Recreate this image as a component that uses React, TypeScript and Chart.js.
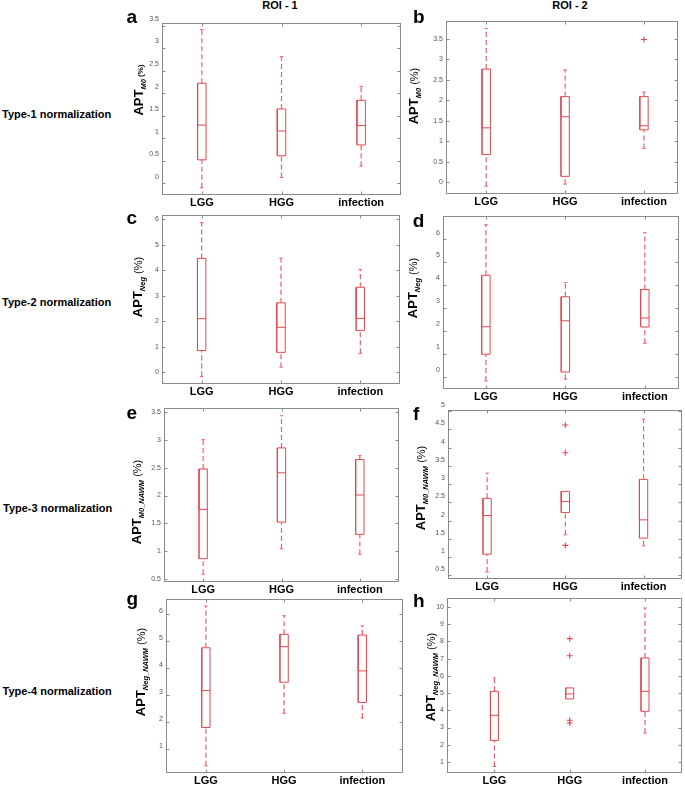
import React, { useEffect, useRef } from 'react';
import { Chart, registerables } from 'chart.js';

Chart.register(...registerables);

const FONT = '"Liberation Sans", Arial, Helvetica, sans-serif';

const CATEGORIES = ['LGG', 'HGG', 'infection'];
const ROW_LABELS = ['Type-1 normalization', 'Type-2 normalization', 'Type-3 normalization', 'Type-4 normalization'];
const COL_LABELS = ['ROI - 1', 'ROI - 2'];

// five-number summaries per category: [lower whisker, Q1, median, Q3, upper whisker]
const STATS_A = [[-0.10, 0.52, 1.29, 2.22, 3.41], [0.13, 0.61, 1.16, 1.65, 2.81], [0.38, 0.85, 1.28, 1.84, 2.15]];
const STATS_B = [[-0.09, 0.68, 1.33, 2.76, 3.75], [-0.04, 0.15, 1.60, 2.09, 2.74], [0.83, 1.28, 1.38, 2.09, 2.20]];
const STATS_C = [[-0.17, 0.85, 2.10, 4.46, 5.86], [0.20, 0.78, 1.76, 2.72, 4.47], [0.74, 1.63, 2.11, 3.33, 4.03]];
const STATS_D = [[-0.19, 0.98, 2.18, 4.43, 6.64], [-0.11, 0.20, 2.44, 3.49, 4.11], [1.46, 2.17, 2.56, 3.81, 6.29]];
const STATS_E = [[0.58, 0.86, 1.75, 2.48, 3.01], [1.04, 1.52, 2.41, 2.86, 3.44], [0.94, 1.30, 2.01, 2.65, 2.72]];
const STATS_F = [[0.59, 1.08, 2.14, 2.61, 3.30], [1.61, 2.22, 2.52, 2.80, 2.80], [1.31, 1.52, 2.02, 3.13, 4.78]];
const STATS_G = [[0.38, 1.80, 3.17, 4.76, 6.31], [2.33, 3.48, 4.80, 5.26, 5.95], [2.15, 2.73, 3.90, 5.23, 5.57]];
const STATS_H = [[0.74, 2.25, 3.71, 5.10, 5.88], [4.66, 4.66, 4.95, 5.30, 5.30], [2.68, 3.94, 5.10, 7.04, 9.94]];

// outliers: [category index, value]
const OUT_NONE: number[][] = [];
const OUT_B = [[2, 3.48]];
const OUT_F = [[1, 4.62], [1, 3.86], [1, 1.32]];
const OUT_H = [[1, 8.16], [1, 7.17], [1, 3.42], [1, 3.26]];

// y tick values
const TICKS_A = [0, 0.5, 1, 1.5, 2, 2.5, 3, 3.5];
const TICKS_B = [0, 0.5, 1, 1.5, 2, 2.5, 3, 3.5];
const TICKS_C = [0, 1, 2, 3, 4, 5, 6];
const TICKS_D = [0, 1, 2, 3, 4, 5, 6];
const TICKS_E = [0.5, 1, 1.5, 2, 2.5, 3, 3.5];
const TICKS_F = [0.5, 1, 1.5, 2, 2.5, 3, 3.5, 4, 4.5, 5];
const TICKS_G = [1, 2, 3, 4, 5, 6];
const TICKS_H = [1, 2, 3, 4, 5, 6, 7, 8, 9, 10];

// layout / style (not data)
const YW = 30;
const PT = 12;
const PR = 4;
const XH = 20;
const BOX_HALF = 0.053;
const CAP_HALF = 0.022;
const BOX_COLOR = 'rgb(224, 72, 78)';
const WHISKER_COLOR = 'rgb(234, 98, 102)';

type Panel = {
  id: string;
  stats: number[][];
  out: number[][];
  ticks: number[];
  frame: number[];
  y: number[];
  x: number[];
  lo: number;
  letter: number[];
  title: { cx: number; cy: number; sub: string; pct: number };
};

const PANELS: Panel[] = [
  { id: 'a', stats: STATS_A, out: OUT_NONE, ticks: TICKS_A, frame: [162, 23, 401, 195], y: [-0.26, 3.556], x: [0.5, 3.5], lo: -6.5, letter: [126.5, 22.7], title: { cx: 140, cy: 90, sub: 'M0', pct: 8 } },
  { id: 'b', stats: STATS_B, out: OUT_B, ticks: TICKS_B, frame: [446, 21, 679, 194], y: [-0.28, 3.93], x: [0.49, 3.43], lo: 0, letter: [413, 22.7], title: { cx: 415, cy: 96, sub: 'M0', pct: 11 } },
  { id: 'c', stats: STATS_C, out: OUT_NONE, ticks: TICKS_C, frame: [162, 215, 400, 384], y: [-0.46, 6.16], x: [0.5, 3.5], lo: 0, letter: [126.5, 224], title: { cx: 139, cy: 287, sub: 'Neg', pct: 11 } },
  { id: 'd', stats: STATS_D, out: OUT_NONE, ticks: TICKS_D, frame: [443, 216, 679, 389], y: [-0.54, 7.02], x: [0.46, 3.43], lo: -6.7, letter: [412.7, 226.7], title: { cx: 414, cy: 288, sub: 'Neg', pct: 11 } },
  { id: 'e', stats: STATS_E, out: OUT_NONE, ticks: TICKS_E, frame: [164, 408, 399, 582], y: [0.44, 3.58], x: [0.5, 3.5], lo: 0, letter: [126.5, 419], title: { cx: 138, cy: 502, sub: 'M0_NAWM', pct: 11 } },
  { id: 'f', stats: STATS_F, out: OUT_F, ticks: TICKS_F, frame: [448, 410, 683, 579], y: [0.40, 5.03], x: [0.5, 3.49], lo: -6, letter: [413, 420], title: { cx: 422, cy: 488, sub: 'M0_NAWM', pct: 11 } },
  { id: 'g', stats: STATS_G, out: OUT_NONE, ticks: TICKS_G, frame: [166, 599, 403, 773], y: [0.11, 6.57], x: [0.49, 3.52], lo: -3, letter: [126.5, 605], title: { cx: 142, cy: 672, sub: 'Neg_NAWM', pct: 11 } },
  { id: 'h', stats: STATS_H, out: OUT_H, ticks: TICKS_H, frame: [447, 598, 683, 773], y: [0.36, 10.52], x: [0.37, 3.49], lo: 0, letter: [413, 606.7], title: { cx: 432, cy: 677, sub: 'Neg_NAWM', pct: 11 } },
];

const ROW_POS = [[2, 118.3], [2, 306.7], [3, 512.7], [2.5, 695]];
const COL_POS = [[280, 8.8], [570, 8.8]];

const framePlugin = {
  id: 'matlabFrame',
  beforeDatasetsDraw(chart: any) {
    const { ctx, chartArea: a, scales } = chart;
    const l = Math.round(a.left) + 0.5;
    const r = Math.round(a.right) - 0.5;
    const t = Math.round(a.top) + 0.5;
    const b = Math.round(a.bottom) - 0.5;
    ctx.save();
    ctx.strokeStyle = '#8a8a8a';
    ctx.lineWidth = 1;
    ctx.strokeRect(l, t, r - l, b - t);
    ctx.beginPath();
    for (const tk of scales.y.ticks) {
      const yy = Math.round(scales.y.getPixelForValue(tk.value)) + 0.5;
      ctx.moveTo(l, yy); ctx.lineTo(l + 3, yy);
      ctx.moveTo(r, yy); ctx.lineTo(r - 3, yy);
    }
    for (const tk of scales.x.ticks) {
      const xx = Math.round(scales.x.getPixelForValue(tk.value)) + 0.5;
      ctx.moveTo(xx, b); ctx.lineTo(xx, b - 3);
      ctx.moveTo(xx, t); ctx.lineTo(xx, t + 3);
    }
    ctx.stroke();
    ctx.restore();
  },
};

function buildDatasets(stats: number[][], out: number[][]) {
  const box: any[] = [];
  const whisk: any[] = [];
  const caps: any[] = [];
  stats.forEach(([lo, q1, med, q3, hi], i) => {
    const x = i + 1;
    box.push(
      { x: x - BOX_HALF, y: q1 }, { x: x + BOX_HALF, y: q1 }, { x: x + BOX_HALF, y: q3 },
      { x: x - BOX_HALF, y: q3 }, { x: x - BOX_HALF, y: q1 }, { x: x - BOX_HALF, y: med },
      { x: x + BOX_HALF, y: med }, { x, y: null },
    );
    whisk.push({ x, y: lo }, { x, y: q1 }, { x, y: null }, { x, y: q3 }, { x, y: hi }, { x, y: null });
    if (lo < q1) caps.push({ x: x - CAP_HALF, y: lo }, { x: x + CAP_HALF, y: lo }, { x, y: null });
    if (hi > q3) caps.push({ x: x - CAP_HALF, y: hi }, { x: x + CAP_HALF, y: hi }, { x, y: null });
  });
  const lineBase = { type: 'line', pointRadius: 0, fill: false, tension: 0, spanGaps: false };
  return [
    { ...lineBase, label: 'whiskers', data: whisk, borderColor: WHISKER_COLOR, borderWidth: 1.2, borderDash: [5, 3] },
    { ...lineBase, label: 'caps', data: caps, borderColor: WHISKER_COLOR, borderWidth: 1 },
    { ...lineBase, label: 'boxes', data: box, borderColor: BOX_COLOR, borderWidth: 1 },
    {
      type: 'line', label: 'outliers', showLine: false,
      data: out.map(([ci, v]) => ({ x: ci + 1, y: v })),
      pointStyle: 'cross', pointRadius: 3, borderColor: BOX_COLOR, borderWidth: 1.1, backgroundColor: BOX_COLOR,
    },
  ];
}

function BoxPanel({ p }: { p: Panel }) {
  const ref = useRef<HTMLCanvasElement>(null);
  const [L, T, R, B] = p.frame;
  const W = R - L + YW + PR;
  const H = B - T + PT + XH;
  useEffect(() => {
    if (!ref.current) return;
    const chart = new Chart(ref.current, {
      type: 'line',
      data: { datasets: buildDatasets(p.stats, p.out) as any },
      plugins: [framePlugin],
      options: {
        responsive: false,
        animation: false,
        events: [],
        layout: { padding: { top: PT, right: PR, left: 0, bottom: 0 } },
        plugins: { legend: { display: false }, tooltip: { enabled: false }, title: { display: false } },
        scales: {
          x: {
            type: 'linear', min: p.x[0], max: p.x[1],
            grid: { display: false, drawTicks: false }, border: { display: false },
            afterFit: (s: any) => { s.height = XH; },
            afterBuildTicks: (s: any) => { s.ticks = CATEGORIES.map((_, i) => ({ value: i + 1 })); },
            ticks: {
              callback: (v: any) => CATEGORIES[Math.round(Number(v)) - 1] ?? '',
              font: { family: FONT, size: 11, weight: 'bold' }, color: '#000', padding: 1.5,
              maxRotation: 0, minRotation: 0, autoSkip: false,
            },
          },
          y: {
            type: 'linear', min: p.y[0], max: p.y[1],
            grid: { display: false, drawTicks: false }, border: { display: false },
            afterFit: (s: any) => { s.width = YW; },
            afterBuildTicks: (s: any) => { s.ticks = p.ticks.map((v) => ({ value: v })); },
            ticks: {
              callback: (v: any) => String(v),
              font: { family: FONT, size: 7 }, color: '#555', padding: 3,
              labelOffset: p.lo, autoSkip: false,
            },
          },
        },
      } as any,
    });
    return () => chart.destroy();
  }, [p]);
  return (
    <canvas
      ref={ref}
      width={W}
      height={H}
      style={{ position: 'absolute', left: L - YW, top: T - PT, width: W, height: H }}
    />
  );
}

function YTitle({ t }: { t: Panel['title'] }) {
  return (
    <div
      style={{
        position: 'absolute', left: t.cx, top: t.cy, transform: 'translate(-50%, -50%) rotate(-90deg)',
        whiteSpace: 'nowrap', fontFamily: FONT, fontWeight: 'bold', fontSize: 13, lineHeight: '16px', color: '#000',
      }}
    >
      APT
      <span style={{ fontSize: 7.5, fontStyle: 'italic', position: 'relative', top: 3 }}>{t.sub}</span>
      <span style={{ fontSize: t.pct, fontWeight: t.pct < 10 ? 'bold' : 'normal' }}> (%)</span>
    </div>
  );
}

export default function App() {
  return (
    <div style={{ position: 'absolute', left: 0, top: 0, width: 685, height: 786, overflow: 'hidden', background: '#fff' }}>
      {COL_LABELS.map((s, i) => (
        <div key={s} style={{
          position: 'absolute', left: COL_POS[i][0], top: COL_POS[i][1] - 9.3, transform: 'translateX(-50%)',
          fontFamily: FONT, fontWeight: 'bold', fontSize: 11, lineHeight: '11px', whiteSpace: 'nowrap', color: '#000',
        }}>{s}</div>
      ))}
      {ROW_LABELS.map((s, i) => (
        <div key={s} style={{
          position: 'absolute', left: ROW_POS[i][0], top: ROW_POS[i][1] - 9.3,
          fontFamily: FONT, fontWeight: 'bold', fontSize: 11, lineHeight: '11px', whiteSpace: 'nowrap', color: '#000',
        }}>{s}</div>
      ))}
      {PANELS.map((p) => (
        <React.Fragment key={p.id}>
          <BoxPanel p={p} />
          <YTitle t={p.title} />
          <div style={{
            position: 'absolute', left: p.letter[0], top: p.letter[1] - 16,
            fontFamily: FONT, fontWeight: 'bold', fontSize: 19, lineHeight: '19px', color: '#000',
          }}>{p.id}</div>
        </React.Fragment>
      ))}
    </div>
  );
}
